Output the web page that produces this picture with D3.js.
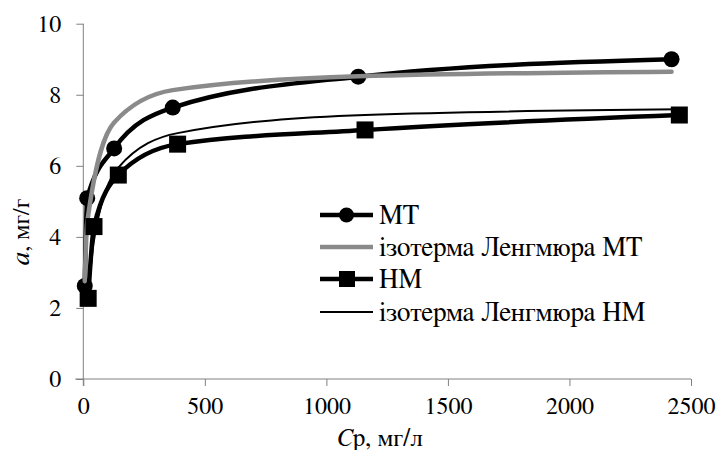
<!DOCTYPE html>
<html>
<head>
<meta charset="utf-8">
<script src="https://cdn.jsdelivr.net/npm/d3@7/dist/d3.min.js"></script>
</head>
<body style="margin:0">
<svg id="chart" width="719" height="450" style="display:block;font-family:FreeSerif, 'Times New Roman', serif"></svg>
<script>
// ---- Data ----
const mtC      = [6, 16, 127, 368, 1131, 2420];
const mtA      = [2.62, 5.09, 6.49, 7.64, 8.51, 9.00];
const langMtC  = [6, 16, 127, 368, 1131, 2420];
const langMtA  = [2.75, 4.40, 7.22, 8.13, 8.52, 8.65];
const hmC      = [20, 44, 144, 388, 1159, 2452];
const hmA      = [2.27, 4.29, 5.74, 6.61, 7.01, 7.43];
const langHmC  = [20, 44, 144, 388, 1159, 2452];
const langHmA  = [2.30, 3.90, 5.95, 6.92, 7.43, 7.59];
const xTicks   = [0, 500, 1000, 1500, 2000, 2500];
const yTicks   = [0, 2, 4, 6, 8, 10];
const legendLabels = ["МТ", "ізотерма Ленгмюра МТ", "НМ", "ізотерма Ленгмюра НМ"];

const FONT = "FreeSerif";
const svg = d3.select("#chart");
const x = d3.scaleLinear().domain([0, 2500]).range([83.3, 691]);
const y = d3.scaleLinear().domain([0, 10]).range([379, 23.7]);

function serif(sel, size) {
  return sel.attr("font-family", FONT).style("font-family", FONT).attr("font-size", size).attr("fill", "#000");
}

// ---- Axes ----
const axisColor = "#808080";
const gx = svg.append("g").attr("transform", `translate(0,${y(0)})`)
  .call(d3.axisBottom(x).tickValues(xTicks).tickFormat(d3.format("d")).tickSize(7).tickPadding(11).tickSizeOuter(0));
gx.attr("font-family", FONT);
gx.select(".domain").attr("stroke", axisColor).attr("d", `M${x(0)-8},0H${x(2500)}`);
gx.selectAll(".tick line").attr("stroke", axisColor);
serif(gx.selectAll(".tick text"), 24);

const gy = svg.append("g").attr("transform", `translate(${x(0)},0)`)
  .call(d3.axisLeft(y).tickValues(yTicks).tickFormat(d3.format("d")).tickSize(7).tickPadding(15).tickSizeOuter(0));
gy.attr("font-family", FONT);
gy.select(".domain").attr("stroke", axisColor).attr("d", `M0,${y(10)}V${y(0)+7}`);
gy.selectAll(".tick line").attr("stroke", axisColor);
serif(gy.selectAll(".tick text"), 24);

// ---- Axis titles ----
const xt = serif(svg.append("text"), 25).attr("x", 380).attr("y", 446).attr("text-anchor", "middle");
xt.append("tspan").attr("font-style", "italic").text("C");
xt.append("tspan").text("р, мг/л");

const yt = serif(svg.append("text"), 24).attr("transform", "translate(29,232) rotate(-90)").attr("text-anchor", "middle");
yt.append("tspan").attr("font-style", "italic").attr("font-size", 27).text("a");
yt.append("tspan").text(", мг/г");

// ---- Series ----
const line = d3.line().x(d => x(d[0])).y(d => y(d[1])).curve(d3.curveMonotoneX);
const zip = (c, a) => c.map((v, i) => [v, a[i]]);

const series = [
  { pts: zip(mtC, mtA), color: "#000", width: 4.5, marker: "circle" },
  { pts: zip(langMtC, langMtA), color: "#8a8a8a", width: 4.5, marker: null },
  { pts: zip(hmC, hmA), color: "#000", width: 4.5, marker: "square" },
  { pts: zip(langHmC, langHmA), color: "#000", width: 2, marker: null }
];

series.forEach(s => {
  svg.append("path").datum(s.pts).attr("d", line)
    .attr("fill", "none").attr("stroke", s.color).attr("stroke-width", s.width)
    .attr("stroke-linejoin", "round").attr("stroke-linecap", "round");
  if (s.marker === "circle") {
    svg.append("g").selectAll("circle").data(s.pts).join("circle")
      .attr("cx", d => x(d[0])).attr("cy", d => y(d[1])).attr("r", 8).attr("fill", "#000");
  } else if (s.marker === "square") {
    svg.append("g").selectAll("rect").data(s.pts).join("rect")
      .attr("x", d => x(d[0]) - 8.5).attr("y", d => y(d[1]) - 8.5)
      .attr("width", 17).attr("height", 17).attr("fill", "#000");
  }
});

// ---- Legend ----
const legY = [215, 247, 279, 312];
const lg = svg.append("g");
series.forEach((s, i) => {
  const yy = legY[i];
  lg.append("line").attr("x1", 320).attr("x2", 373).attr("y1", yy).attr("y2", yy)
    .attr("stroke", s.color).attr("stroke-width", s.width);
  if (s.marker === "circle") {
    lg.append("circle").attr("cx", 346.5).attr("cy", yy).attr("r", 7.5).attr("fill", "#000");
  } else if (s.marker === "square") {
    lg.append("rect").attr("x", 339).attr("y", yy - 8).attr("width", 16).attr("height", 16).attr("fill", "#000");
  }
  serif(lg.append("text"), 27).attr("x", 379).attr("y", yy).attr("dy", "0.35em").text(legendLabels[i]);
});
</script>
</body>
</html>
